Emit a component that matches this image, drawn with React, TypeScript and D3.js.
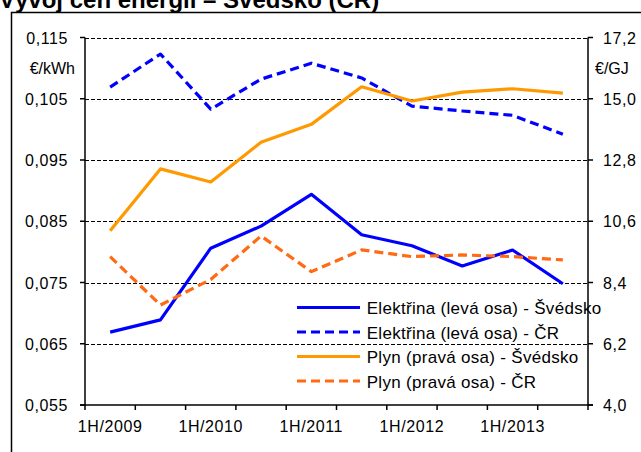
import React from "react";
import * as d3 from "d3";

// half-year periods
const categories = [
  "1H/2009", "2H/2009", "1H/2010", "2H/2010", "1H/2011",
  "2H/2011", "1H/2012", "2H/2012", "1H/2013", "2H/2013",
];

// left axis (€/kWh)
const elektrinaSvedsko = [0.0669, 0.0689, 0.0806, 0.0842, 0.0894, 0.0828, 0.081, 0.0777, 0.0803, 0.0748];
const elektrinaCR = [0.1069, 0.1123, 0.1033, 0.1082, 0.1108, 0.1084, 0.1038, 0.103, 0.1023, 0.0992];

// right axis (€/GJ)
const plynSvedsko = [10.26, 12.48, 12.01, 13.44, 14.08, 15.43, 14.92, 15.24, 15.36, 15.2];
const plynCR = [9.33, 7.59, 8.51, 10.07, 8.79, 9.57, 9.33, 9.39, 9.33, 9.21];

const leftTicks = [0.055, 0.065, 0.075, 0.085, 0.095, 0.105, 0.115];
const rightTicks = [4.0, 6.2, 8.4, 10.6, 12.8, 15.0, 17.2];

const title = "Vývoj cen energií – Švédsko (ČR)";

const series = [
  { name: "Elektřina (levá osa) - Švédsko", values: elektrinaSvedsko, axis: "left", color: "#0000ff", dash: null },
  { name: "Elektřina (levá osa) - ČR", values: elektrinaCR, axis: "left", color: "#0000ff", dash: "9,5" },
  { name: "Plyn (pravá osa) - Švédsko", values: plynSvedsko, axis: "right", color: "#ff9900", dash: null },
  { name: "Plyn (pravá osa) - ČR", values: plynCR, axis: "right", color: "#ff6a13", dash: "9,5" },
];

const font = "'Liberation Sans', Arial, sans-serif";

export default function App() {
  const left = 85;
  const right = 588;
  const top = 37.5;
  const bottom = 405;

  const x = d3.scaleBand<string>().domain(categories).range([left, right]);
  const yL = d3.scaleLinear().domain([0.055, 0.115]).range([bottom, top]);
  const yR = d3.scaleLinear().domain([4.0, 17.2]).range([bottom, top]);

  const fmtL = (v: number) => v.toFixed(3).replace(".", ",");
  const fmtR = (v: number) => v.toFixed(1).replace(".", ",");

  const cx = (c: string) => (x(c) as number) + x.bandwidth() / 2;
  const boundaries = categories.map((c) => x(c) as number).concat([right]);

  return (
    <svg
      width={641}
      height={452}
      style={{ position: "absolute", left: 0, top: 0, background: "#fff" }}
      fontFamily={font}
    >
      <rect x={0} y={0} width={641} height={452} fill="#fff" />
      <text x={-1} y={7.5} fontSize={24} fontWeight="bold" fill="#000">
        {title}
      </text>
      <rect x={11.5} y={12.5} width={700} height={500} fill="none" stroke="#000" strokeWidth={1.5} />

      {/* gridlines */}
      {leftTicks.slice(1).map((t) => (
        <line
          key={"g" + t}
          x1={left}
          x2={right}
          y1={Math.round(yL(t)) + 0.5}
          y2={Math.round(yL(t)) + 0.5}
          stroke="#000"
          strokeWidth={1}
          strokeDasharray="4,2"
        />
      ))}

      {/* axes */}
      <line x1={left} x2={left} y1={top} y2={bottom} stroke="#000" strokeWidth={1.5} />
      <line x1={right} x2={right} y1={top} y2={bottom} stroke="#000" strokeWidth={1.5} />
      <line x1={left - 5} x2={right + 5} y1={bottom} y2={bottom} stroke="#000" strokeWidth={1.5} />

      {leftTicks.map((t) => (
        <g key={"l" + t}>
          <line x1={left - 5} x2={left} y1={yL(t)} y2={yL(t)} stroke="#000" strokeWidth={1.5} />
          <text x={68} y={yL(t) + 6} textAnchor="end" fontSize={16} letterSpacing={0.6}>
            {fmtL(t)}
          </text>
        </g>
      ))}
      {rightTicks.map((t) => (
        <g key={"r" + t}>
          <line x1={right} x2={right + 5} y1={yR(t)} y2={yR(t)} stroke="#000" strokeWidth={1.5} />
          <text x={603} y={yR(t) + 6} fontSize={16} letterSpacing={0.6}>
            {fmtR(t)}
          </text>
        </g>
      ))}
      <text x={75} y={74} textAnchor="end" fontSize={16}>
        €/kWh
      </text>
      <text x={595} y={74} fontSize={16}>
        €/GJ
      </text>

      {boundaries.map((b, i) => (
        <line key={"xt" + i} x1={b} x2={b} y1={bottom} y2={bottom + 5} stroke="#000" strokeWidth={1.5} />
      ))}
      {categories.map((c) =>
        c.startsWith("1H") ? (
          <text key={"xl" + c} x={cx(c)} y={431.7} textAnchor="middle" fontSize={16} letterSpacing={0.6}>
            {c}
          </text>
        ) : null
      )}

      {/* series */}
      {series.map((s) => {
        const y = s.axis === "left" ? yL : yR;
        const line = d3
          .line<number>()
          .x((_, i) => cx(categories[i]))
          .y((d) => y(d));
        return (
          <path
            key={s.name}
            d={line(s.values) || ""}
            fill="none"
            stroke={s.color}
            strokeWidth={3.2}
            strokeLinejoin="round"
            strokeDasharray={s.dash || undefined}
          />
        );
      })}

      {/* legend */}
      {series.map((s, i) => {
        const ly = 307.5 + i * 24.5;
        return (
          <g key={"lg" + i}>
            <line
              x1={297}
              x2={360}
              y1={ly}
              y2={ly}
              stroke={s.color}
              strokeWidth={3.2}
              strokeDasharray={s.dash || undefined}
            />
            <text x={366.7} y={ly + 6.5} fontSize={17} letterSpacing={0.3}>
              {s.name}
            </text>
          </g>
        );
      })}
    </svg>
  );
}
